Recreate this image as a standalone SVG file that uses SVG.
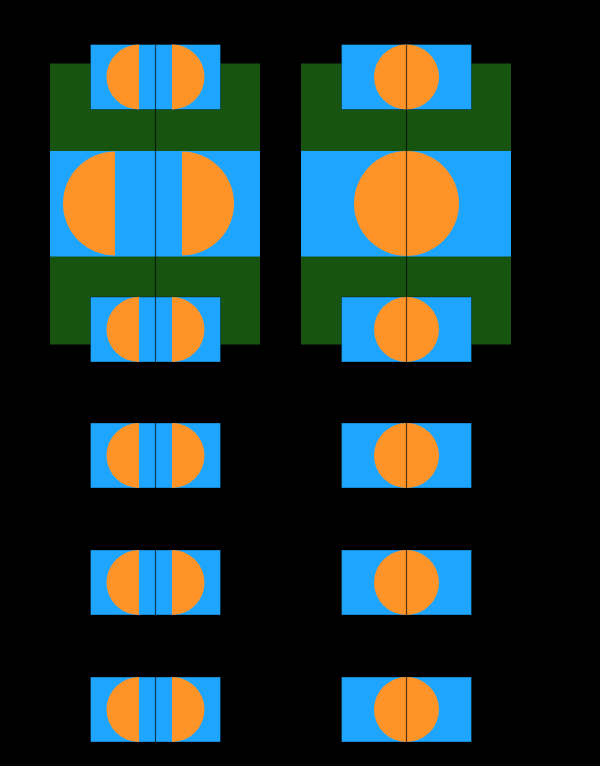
<svg xmlns="http://www.w3.org/2000/svg" width="600" height="766" viewBox="0 0 600 766">
<style>
.bg{fill:#000}
.field{fill:#16540f}
.band{fill:#1ea5ff}
.box{fill:#1ea5ff;stroke:#000;stroke-opacity:0.35;stroke-width:1}
.ball{fill:#fe9428}
.axis{stroke:#000;stroke-opacity:0.65;stroke-width:1.2;fill:none}
</style>
<defs>
<path id="halfL32" d="M0,-32.5 A32.5,32.5 0 0 0 0,32.5 Z"/>
<path id="halfR32" d="M0,-32.5 A32.5,32.5 0 0 1 0,32.5 Z"/>
<g id="splitSmall">
<rect class="box" x="-65" y="-32.5" width="130" height="65"/>
<use href="#halfL32" class="ball" x="-16.5"/>
<use href="#halfR32" class="ball" x="16.5"/>
<line class="axis" x1="0" y1="-32.5" x2="0" y2="32.5"/>
</g>
<g id="wholeSmall">
<rect class="box" x="-65" y="-32.5" width="130" height="65"/>
<circle class="ball" r="32.5"/>
<line class="axis" x1="0" y1="-32.5" x2="0" y2="32.5"/>
</g>
</defs>
<rect class="bg" x="0" y="0" width="600" height="766"/>

<g id="panel-left">
<rect class="field" x="50" y="63.5" width="210" height="281"/>
<rect class="band" x="50" y="151" width="210" height="105.5"/>
<path class="ball" d="M115,151.5 A52,52 0 0 0 115,255.5 Z"/>
<path class="ball" d="M182,151.5 A52,52 0 0 1 182,255.5 Z"/>
<use href="#splitSmall" x="155.5" y="77"/>
<use href="#splitSmall" x="155.5" y="329.5"/>
<line class="axis" x1="155.5" y1="109.5" x2="155.5" y2="297"/>
</g>

<g id="panel-right">
<rect class="field" x="301" y="63.5" width="210" height="281"/>
<rect class="band" x="301" y="151" width="210" height="105.5"/>
<circle class="ball" cx="406.5" cy="203.5" r="52.5"/>
<use href="#wholeSmall" x="406.5" y="77"/>
<use href="#wholeSmall" x="406.5" y="329.5"/>
<line class="axis" x1="406.5" y1="109.5" x2="406.5" y2="297"/>
</g>

<g id="left-row-1"><use href="#splitSmall" x="155.5" y="455.5"/></g>
<g id="right-row-1"><use href="#wholeSmall" x="406.5" y="455.5"/></g>
<g id="left-row-2"><use href="#splitSmall" x="155.5" y="582.5"/></g>
<g id="right-row-2"><use href="#wholeSmall" x="406.5" y="582.5"/></g>
<g id="left-row-3"><use href="#splitSmall" x="155.5" y="709.5"/></g>
<g id="right-row-3"><use href="#wholeSmall" x="406.5" y="709.5"/></g>
</svg>
